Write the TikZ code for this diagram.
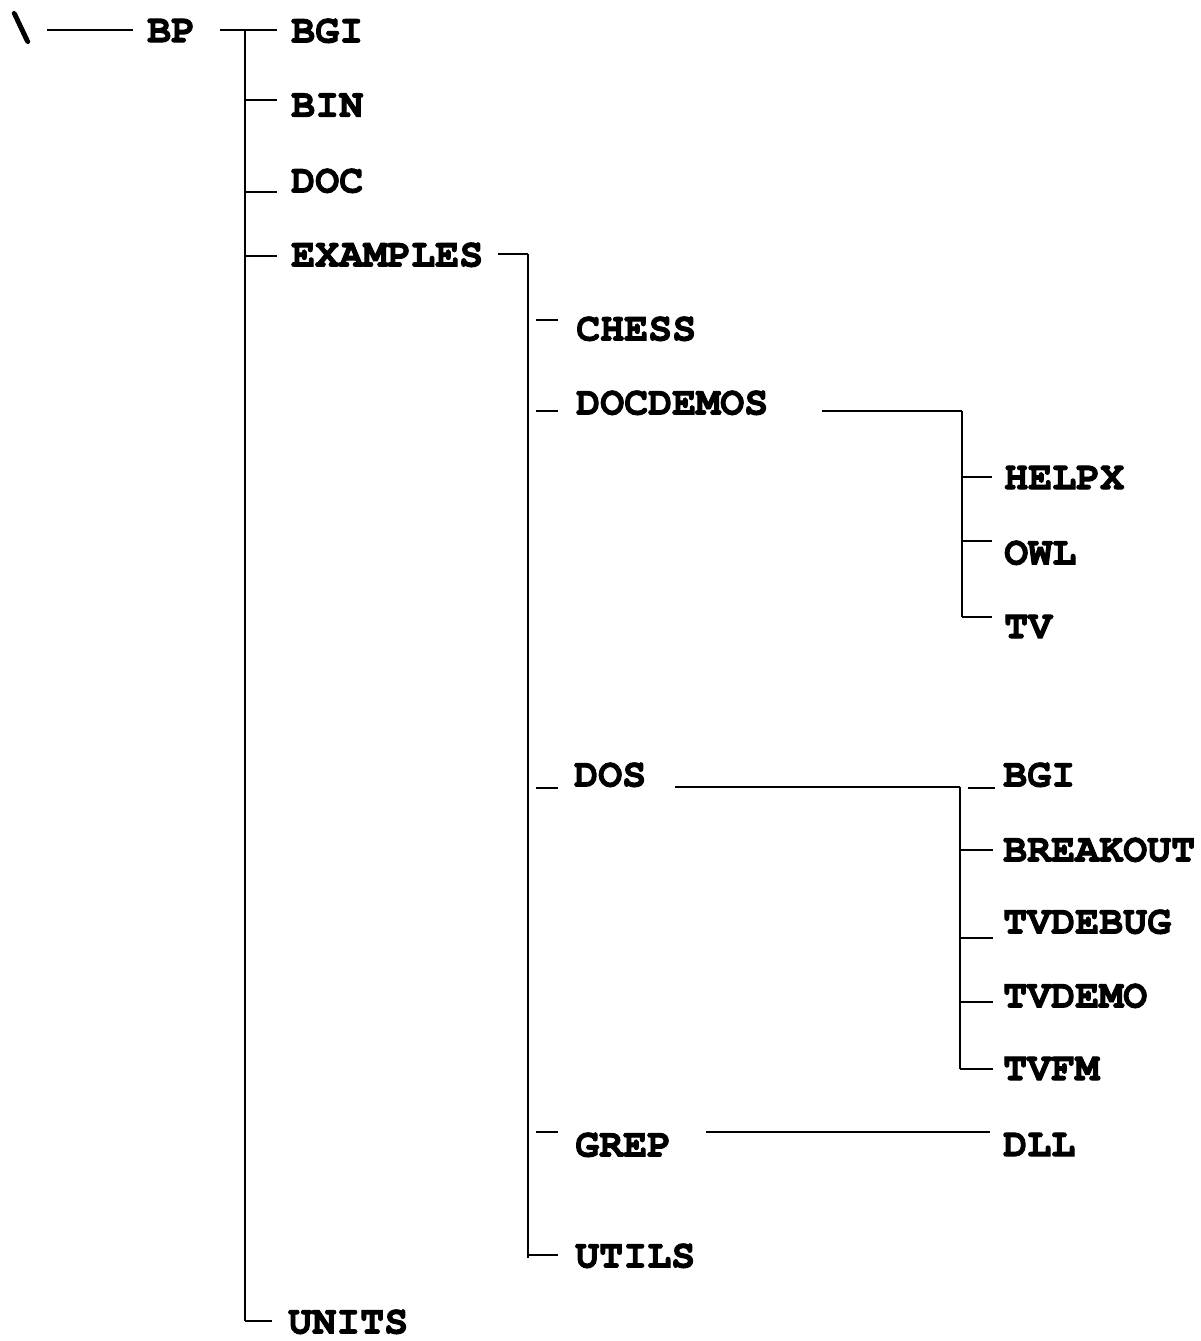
\documentclass[tikz,border=0pt]{standalone}
\newcommand\courfont{\fontencoding{T1}\fontfamily{pcr}\fontseries{b}\selectfont\fontsize{40}{48}\selectfont\special{pdf:literal direct 2 Tr 0.9 w}}
\begin{document}
\begin{tikzpicture}[x=1pt,y=-1pt,
  lbl/.style={anchor=west,inner sep=0pt,font=\courfont},
  conn/.style={line width=2.2pt,line cap=butt},
  trunk/.style={line width=2.6pt}]
\useasboundingbox (0,0) rectangle (1200,1341);
% labels
\node[inner sep=0pt,font=\courfont] (root) at (21,28) {\textbackslash};
\node[lbl] (bp) at (147,31) {BP};
\node[lbl] (bgi) at (291,31) {BGI};
\node[lbl] (bin) at (291,106) {BIN};
\node[lbl] (doc) at (291,181) {DOC};
\node[lbl] (examples) at (291,255) {EXAMPLES};
\node[lbl] (units) at (288,1322) {UNITS};
\node[lbl] (chess) at (576,329) {CHESS};
\node[lbl] (docdemos) at (576,403) {DOCDEMOS};
\node[lbl] (dos) at (574,775) {DOS};
\node[lbl] (grep) at (575,1145) {GREP};
\node[lbl] (utils) at (575,1256) {UTILS};
\node[lbl] (helpx) at (1004,478) {HELPX};
\node[lbl] (owl) at (1004,553) {OWL};
\node[lbl] (tv) at (1004,627) {TV};
\node[lbl] (bgib) at (1003,775) {BGI};
\node[lbl] (breakout) at (1003,850) {BREAKOUT};
\node[lbl] (tvdebug) at (1003,922) {TVDEBUG};
\node[lbl] (tvdemo) at (1003,996) {TVDEMO};
\node[lbl] (tvfm) at (1003,1069) {TVFM};
\node[lbl] (dll) at (1003,1145) {DLL};
% junction coordinates
\coordinate (r0) at (47,30);   \coordinate (r1) at (133,30);
\coordinate (bp0) at (220,30); \coordinate (bp1) at (277,30);
\coordinate (t1top) at (245,30); \coordinate (t1bot) at (245,1321);
\coordinate (ex0) at (498,254); \coordinate (t2top) at (528,254); \coordinate (t2bot) at (528,1258);
\coordinate (dd0) at (822,411); \coordinate (t3top) at (962,411); \coordinate (t3bot) at (962,617);
\coordinate (ds0) at (675,787); \coordinate (t4top) at (960,787); \coordinate (t4bot) at (960,1069);
\coordinate (gr0) at (706,1132); \coordinate (gr1) at (990,1132);
% connectors
\draw[conn] (r0) -- (r1);
\draw[conn] (bp0) -- (bp1);
\draw[trunk] (t1top) -- (t1bot);
\draw[conn] (t1top |- 0,100) -- (277,100);
\draw[conn] (t1top |- 0,192) -- (277,192);
\draw[conn] (t1top |- 0,256) -- (277,256);
\draw[conn] (t1bot) -- (272,1321);
\draw[conn] (ex0) -- (t2top);
\draw[trunk] (t2top) -- (t2bot);
\draw[conn] (536,320) -- (558,320);
\draw[conn] (536,411) -- (558,411);
\draw[conn] (536,788) -- (558,788);
\draw[conn] (536,1132) -- (558,1132);
\draw[conn] (t2bot |- 0,1255) -- (558,1255);
\draw[conn] (dd0) -- (t3top);
\draw[trunk] (t3top) -- (t3bot);
\draw[conn] (t3top |- 0,477) -- (992,477);
\draw[conn] (t3top |- 0,541) -- (992,541);
\draw[conn] (t3bot) -- (992,617);
\draw[conn] (ds0) -- (t4top);
\draw[trunk] (t4top) -- (t4bot);
\draw[conn] (968,788) -- (995,788);
\draw[conn] (t4top |- 0,850) -- (993,850);
\draw[conn] (t4top |- 0,938) -- (993,938);
\draw[conn] (t4top |- 0,1002) -- (993,1002);
\draw[conn] (t4bot) -- (993,1069);
\draw[conn] (gr0) -- (gr1);
\end{tikzpicture}
\end{document}
